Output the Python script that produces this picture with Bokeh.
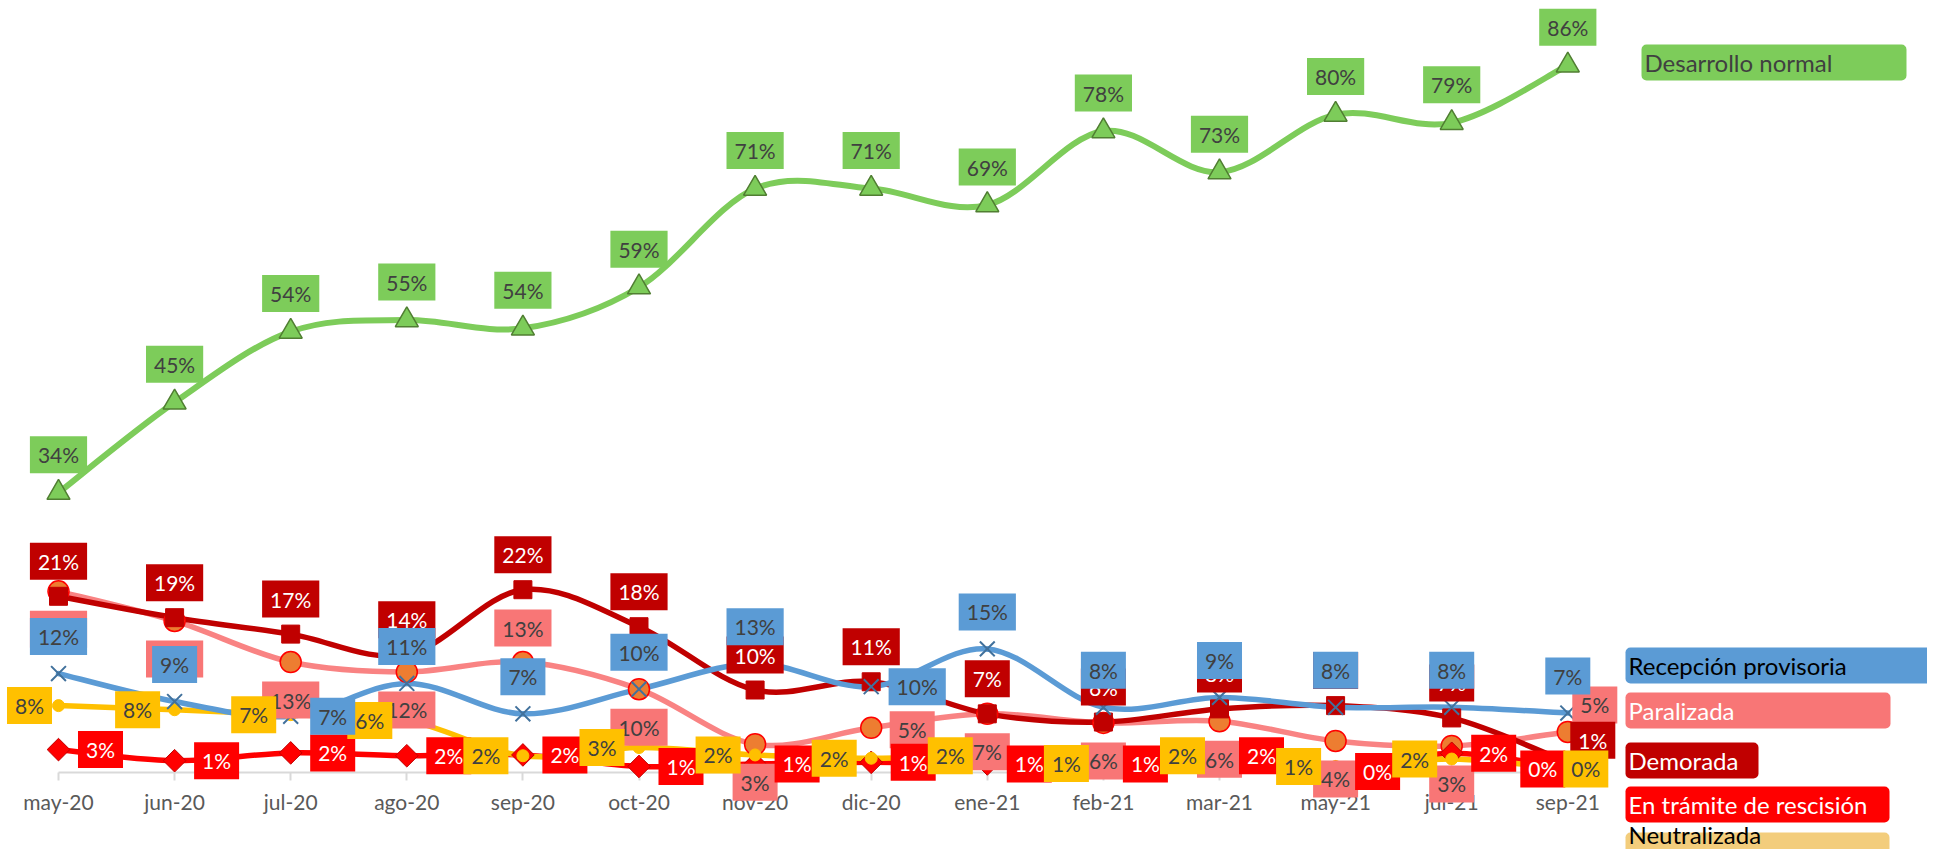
import numpy as np
from bokeh.plotting import figure
from bokeh.models import (Range1d, LinearAxis, FixedTicker, ColumnDataSource,
                          BoxAnnotation, Label)
from bokeh.core.properties import value
from bokeh.embed import file_html
from bokeh.resources import INLINE

# ---------------- data ----------------
categories = ["may-20", "jun-20", "jul-20", "ago-20", "sep-20", "oct-20", "nov-20",
              "dic-20", "ene-21", "feb-21", "mar-21", "may-21", "jul-21", "sep-21"]

desarrollo_normal = [34, 45, 53.6, 55, 54, 59, 71, 71, 69, 78, 73, 80, 79, 86]
recepcion_provisoria = [12.0, 8.6, 6.8, 10.8, 7.1, 10.1, 13.2, 10.4, 15.0, 7.9, 9.1, 7.9, 7.9, 7.2]
paralizada = [22.0, 18.4, 13.4, 12.2, 13.4, 10.1, 3.4, 5.4, 7.1, 6.0, 6.2, 3.8, 3.2, 4.9]
demorada = [21.4, 18.8, 16.8, 14.3, 22.2, 17.7, 10.0, 11.0, 7.1, 6.1, 7.7, 8.1, 6.6, 1.2]
en_tramite = [2.75, 1.4, 2.35, 2.0, 2.1, 0.7, 1.0, 1.2, 1.0, 1.0, 2.0, 0.1, 2.3, 0.4]
neutralizada = [8.1, 7.6, 7.0, 6.3, 2.0, 3.0, 2.1, 1.7, 2.0, 1.05, 2.0, 0.7, 1.6, 0.4]

series_names = ["Desarrollo normal", "Recepción provisoria", "Paralizada", "Demorada",
                "En trámite de rescisión", "Neutralizada"]

# ---------------- layout (pixels) ----------------
W, H = 1927, 849
PAGE_X0, PAGE_Y0 = 0, 0   # where the figure appears in the picture
PXX = 116.1        # px per category
X_PAGE0 = 58.0     # picture x of first category
PXY = 8.22         # px per percentage point
Y_PAGE0 = 771.7    # picture y of 0 %


def dx(px):
    return (px - X_PAGE0) / PXX


def dy(py):
    return (Y_PAGE0 - py) / PXY


n = len(categories)
xs = list(range(n))

p = figure(width=W, height=H,
           x_range=Range1d(dx(PAGE_X0), dx(PAGE_X0 + W)),
           y_range=Range1d(dy(PAGE_Y0 + H), dy(PAGE_Y0)),
           x_axis_location=None, y_axis_location=None,
           toolbar_location=None, output_backend="svg",
           min_border=0, min_border_left=0, min_border_right=0,
           min_border_top=0, min_border_bottom=0,
           outline_line_color=None, background_fill_color="white",
           border_fill_color="white")
p.grid.visible = False

# ---------------- x axis ----------------
xaxis = LinearAxis(fixed_location=0, ticker=FixedTicker(ticks=xs),
                   major_label_overrides={i: c for i, c in enumerate(categories)},
                   bounds=(0, n - 1))
xaxis.axis_line_color = "#D9D9D9"
xaxis.axis_line_width = 2
xaxis.major_tick_line_color = "#D9D9D9"
xaxis.major_tick_line_width = 2
xaxis.major_tick_in = 0
xaxis.major_tick_out = 8
xaxis.minor_tick_line_color = None
xaxis.major_label_text_font = "Lato"
xaxis.major_label_text_font_size = "21px"
xaxis.major_label_text_color = "#595959"
xaxis.major_label_standoff = 9
xaxis.level = "underlay"
p.add_layout(xaxis, "below")


def bezier_source(ys):
    P = list(zip(xs, ys))
    d = dict(x0=[], y0=[], x1=[], y1=[], cx0=[], cy0=[], cx1=[], cy1=[])
    for i in range(n - 1):
        p0 = P[i - 1] if i > 0 else P[i]
        p1, p2 = P[i], P[i + 1]
        p3 = P[i + 2] if i + 2 < n else P[i + 1]
        d["x0"].append(p1[0]); d["y0"].append(p1[1])
        d["x1"].append(p2[0]); d["y1"].append(p2[1])
        d["cx0"].append(p1[0] + (p2[0] - p0[0]) / 6)
        d["cy0"].append(p1[1] + (p2[1] - p0[1]) / 6)
        d["cx1"].append(p2[0] - (p3[0] - p1[0]) / 6)
        d["cy1"].append(p2[1] - (p3[1] - p1[1]) / 6)
    return ColumnDataSource(d)


# style of each series (drawing order)
GREEN, BLUE, PINK_LINE, PINK_BOX = "#7DCC5A", "#5B9BD5", "#F98383", "#F87676"
DRED, RED, YEL = "#C00000", "#FF0000", "#FFC000"

styles = [
    dict(vals=desarrollo_normal, line=GREEN, lw=6,
         marker=dict(marker="triangle", size=23, fill_color=GREEN, line_color="#507E32", line_width=1.5),
         box=GREEN, tcol="#404040", off=(0, -38), special={}),
    dict(vals=paralizada, line=PINK_LINE, lw=5.5,
         marker=dict(marker="circle", size=21, fill_color="#ED7D31", line_color="#FF0000", line_width=1.5),
         box=PINK_BOX, tcol="#404040", off=(0, 38),
         special={4: (0, -34), 7: (41, 2), 13: (27, -27)}),
    dict(vals=demorada, line=DRED, lw=5.5,
         marker=dict(marker="square", size=18, fill_color=DRED, line_color=DRED, line_width=1),
         box=DRED, tcol="white", off=(0, -35), special={13: (25, -22)}),
    dict(vals=en_tramite, line=RED, lw=5.5,
         marker=dict(marker="square", angle=np.pi / 4, size=16, fill_color=RED, line_color=DRED, line_width=1),
         box=RED, tcol="white", off=(42, 0), special={13: (-25, 0)}),
    dict(vals=neutralizada, line=YEL, lw=5.5,
         marker=dict(marker="circle", size=12, fill_color=YEL, line_color=YEL, line_width=1),
         box=YEL, tcol="#404040", off=(-37, 0), special={0: (-29, 0), 13: (18, 0)}),
    dict(vals=recepcion_provisoria, line=BLUE, lw=5.5,
         marker=dict(marker="x", size=21, fill_color=None, line_color="#41719C", line_width=2),
         box=BLUE, tcol="#404040", off=(0, -37), special={2: (42, 0), 7: (46, 0)}),
]

# lines
for s in styles:
    p.bezier(x0="x0", y0="y0", x1="x1", y1="y1", cx0="cx0", cy0="cy0", cx1="cx1", cy1="cy1",
             source=bezier_source(s["vals"]), line_color=s["line"], line_width=s["lw"],
             line_cap="round")

# markers
for s in styles:
    p.scatter(xs, s["vals"], **s["marker"])

# data labels
for s in styles:
    xo = [s["special"].get(i, s["off"])[0] for i in range(n)]
    yo = [s["special"].get(i, s["off"])[1] for i in range(n)]
    src = ColumnDataSource(dict(x=xs, y=s["vals"],
                                t=[f"{round(v)}%" for v in s["vals"]], xo=xo, yo=yo))
    p.text(x="x", y="y", text="t", source=src, x_offset="xo", y_offset="yo",
           text_align="center", text_baseline="middle",
           text_font=value("Lato"), text_font_size="21px", text_color=s["tcol"],
           background_fill_color=s["box"], padding=(8, 6))

# series name boxes (right side)
name_boxes = [
    (series_names[0], 1641, 1906, 44, 80, 62, GREEN, "#404040"),
    (series_names[1], 1625, 1942, 647, 683, 665, BLUE, "#000000"),
    (series_names[2], 1625, 1890, 692, 728, 710, PINK_BOX, "white"),
    (series_names[3], 1625, 1758, 742, 778, 760, DRED, "white"),
    (series_names[4], 1625, 1889, 786, 822, 804, RED, "white"),
    (series_names[5], 1625, 1889, 832, 868, 834, "#F3CD7C", "#000000"),
]
for name, l, r, t, b, c, col, tc in name_boxes:
    p.add_layout(BoxAnnotation(left=dx(l), right=dx(r), top=dy(t), bottom=dy(b),
                               fill_color=col, fill_alpha=1, line_color=None,
                               border_radius=5))
for name, l, r, t, b, c, col, tc in name_boxes:
    p.add_layout(Label(x=dx(l + 3), y=dy(c), text=name,
                       text_baseline="middle", text_align="left",
                       text_font="Lato", text_font_size="24px", text_color=tc))

open("out.html", "w").write(file_html(p, INLINE))
